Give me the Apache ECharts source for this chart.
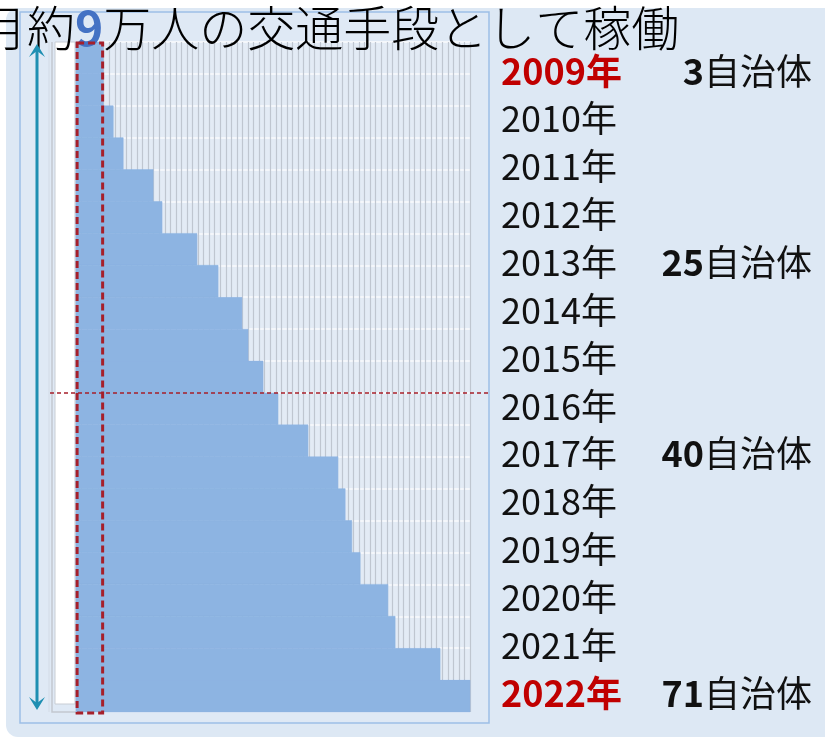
<!DOCTYPE html>
<html><head><meta charset="utf-8">
<script src="https://cdn.jsdelivr.net/npm/echarts@6/dist/echarts.min.js"></script>
<style>html,body{margin:0;padding:0;background:#fff}#c{width:825px;height:739px}</style>
</head><body><div id="c"></div>
<script>
// ---- data ----
const years = ['2009年','2010年','2011年','2012年','2013年','2014年','2015年','2016年','2017年','2018年','2019年','2020年','2021年','2022年'];
const countLabels = ['3','','','','25','','','','40','','','','','71'];
const highlightYears = ['2009年','2022年'];
// staircase: width of the filled part in each of the 21 half-year rows (column units, 0..71)
const rowWidths = [4.9, 4.9, 6.7, 8.5, 13.9, 15.5, 21.8, 25.6, 29.9, 31.0, 33.7, 36.4, 41.8, 47.2, 48.5, 49.7, 51.2, 56.2, 57.5, 65.6, 71.0];
const totalColumns = 71;
const firstYearSpan = 4.8;   // columns running since 2009 (red dashed box)
const dividerRow = 11;       // red dashed divider line
const titleText = '月約{n|9}万人の交通手段として稼働';

const FONT = '"Noto Sans CJK JP", "Noto Sans", sans-serif';
const chart = echarts.init(document.getElementById('c'), null, {renderer: 'canvas'});

const option = {
  backgroundColor: 'transparent',
  animation: false,
  title: {
    text: titleText,
    left: -26, top: -1,
    textStyle: {fontFamily: FONT, fontSize: 48, fontWeight: 300, color: '#000',
      rich: {n: {fontFamily: FONT, fontSize: 48, fontWeight: 'bold', color: '#4472c4'}}}
  },
  grid: {left: 76, top: 42, width: 394, height: 670, show: true, backgroundColor: '#e3ebf5', borderWidth: 0},
  xAxis: {
    type: 'value', min: 0, max: totalColumns, interval: 1,
    axisLine: {show: false}, axisTick: {show: false}, axisLabel: {show: false},
    splitLine: {show: true, lineStyle: {color: '#bfc6d0', width: 1.2}}
  },
  yAxis: [
    {type: 'value', min: 0, max: rowWidths.length, interval: 1, inverse: true,
      axisLine: {show: false}, axisTick: {show: false}, axisLabel: {show: false},
      splitLine: {show: true, lineStyle: {color: '#f4f7fb', width: 2}}},
    {type: 'category', data: years, inverse: true, position: 'right',
      axisLine: {show: false}, axisTick: {show: false}, splitLine: {show: false},
      axisLabel: {interval: 0, align: 'left', margin: 31, padding: [10, 0, 0, 0], fontFamily: FONT, fontSize: 36, color: '#111',
        formatter: v => highlightYears.includes(v) ? '{r|' + v + '}' : v,
        rich: {r: {fontFamily: FONT, fontSize: 36, fontWeight: 'bold', color: '#c00000'}}}},
    {type: 'category', data: countLabels.map((c, i) => i + ':' + c), inverse: true, position: 'right',
      axisLine: {show: false}, axisTick: {show: false}, splitLine: {show: false},
      axisLabel: {interval: 0, align: 'right', margin: 342, padding: [10, 0, 0, 0], fontFamily: FONT, fontSize: 36, color: '#111',
        formatter: v => { const c = v.split(':')[1]; return c ? '{b|' + c + '}自治体' : ''; },
        rich: {b: {fontFamily: FONT, fontSize: 36, fontWeight: 'bold', color: '#111'}}}}
  ],
  series: [
    {
      type: 'custom', xAxisIndex: 0, yAxisIndex: 0,
      data: rowWidths.map((w, i) => [i, w]),
      encode: {x: 1, y: 0},
      renderItem: (params, api) => {
        const i = api.value(0), w = api.value(1);
        const p0 = api.coord([0, i]);
        const p1 = api.coord([w, i + 1]);
        return {type: 'rect', shape: {x: p0[0], y: p0[1], width: p1[0] - p0[0], height: p1[1] - p0[1]},
          style: {fill: '#8db4e2', stroke: '#8db4e2', lineWidth: 0.6}};
      }
    }
  ]
};
chart.setOption(option);

const yDiv = chart.convertToPixel({yAxisIndex: 0}, dividerRow);
const yTop = chart.convertToPixel({yAxisIndex: 0}, 0);
const yBot = chart.convertToPixel({yAxisIndex: 0}, rowWidths.length);
const xRight = chart.convertToPixel({xAxisIndex: 0}, totalColumns);
const xBox0 = chart.convertToPixel({xAxisIndex: 0}, 0.2);
const xBox1 = chart.convertToPixel({xAxisIndex: 0}, firstYearSpan);
chart.setOption({
  graphic: [
    {type: 'rect', z: -100, silent: true, shape: {x: 6, y: 8, width: 840, height: 729, r: 12}, style: {fill: '#dde8f4'}},
    {type: 'rect', z: -90, silent: true, shape: {x: 20, y: 12, width: 469, height: 711}, style: {fill: '#dfe9f5', stroke: '#9dbfe6', lineWidth: 1.5}},
    {type: 'polyline', z: -80, silent: true, shape: {points: [[52, yTop], [52, yBot], [xRight, yBot]]}, style: {stroke: '#c3c8d0', lineWidth: 1.5, fill: null}},
    {type: 'line', z: -80, silent: true, shape: {x1: 49, y1: yTop, x2: 49, y2: yBot}, style: {stroke: '#d3dbe6', lineWidth: 1}},
    {type: 'rect', z: -80, silent: true, shape: {x: 55, y: yTop, width: 20, height: yBot - yTop - 8}, style: {fill: '#ffffff', stroke: '#c8cdd4', lineWidth: 1}},
    {type: 'line', z: 50, silent: true, shape: {x1: 37, y1: yTop + 6, x2: 37, y2: yBot - 6}, style: {stroke: '#1f8fb2', lineWidth: 3}},
    {type: 'polygon', z: 50, silent: true, shape: {points: [[29, yTop + 15], [37, yTop + 2], [45, yTop + 15], [37, yTop + 9]]}, style: {fill: '#1f8fb2'}},
    {type: 'polygon', z: 50, silent: true, shape: {points: [[29, yBot - 15], [37, yBot - 2], [45, yBot - 15], [37, yBot - 9]]}, style: {fill: '#1f8fb2'}},
    {type: 'rect', z: 60, silent: true, shape: {x: xBox0, y: yTop + 1, width: xBox1 - xBox0, height: yBot - yTop}, style: {fill: null, stroke: '#a61f2a', lineWidth: 3, lineDash: [7, 4]}},
    {type: 'line', z: 60, silent: true, shape: {x1: 50, y1: yDiv, x2: 489, y2: yDiv}, style: {stroke: '#a61f2a', lineWidth: 1.5, lineDash: [4, 3]}}
  ]
});
</script></body></html>
